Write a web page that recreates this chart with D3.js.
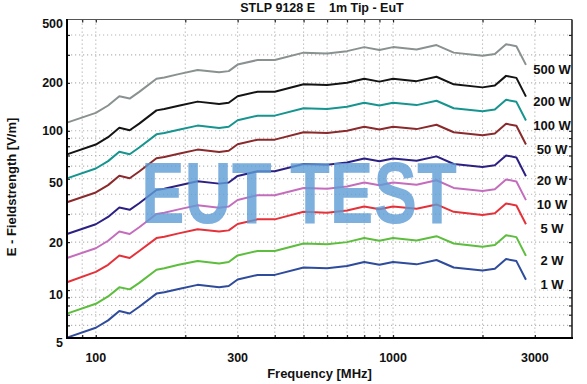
<!DOCTYPE html>
<html>
<head>
<meta charset="utf-8">
<title>STLP 9128 E - 1m Tip - EuT</title>
<script src="https://d3js.org/d3.v7.min.js"></script>
<style>
body { margin: 0; background: #fff; }
svg text { font-family: "Liberation Sans", Arial, sans-serif; font-weight: bold; fill: #111; }
</style>
</head>
<body>
<script>
// frequency points [MHz]
var freqs = [80, 100, 110, 120, 130, 140, 160, 170, 190, 220, 260, 280, 300, 350, 400, 500, 600, 700, 800, 900, 1000, 1200, 1400, 1600, 2000, 2200, 2400, 2600, 2800];

// field strength [V/m] per forward power
var e500 = [112.5, 129.7, 144.2, 165.0, 159.4, 175.5, 212.4, 216.4, 227.0, 241.0, 233.0, 237.0, 260.5, 278.4, 278.4, 309.7, 306.3, 316.4, 335.4, 322.0, 335.4, 324.2, 345.5, 309.7, 296.3, 304.1, 349.9, 339.9, 259.4];
var e200 = [71.1, 82.0, 91.2, 104.4, 100.8, 111.0, 134.4, 136.9, 143.5, 152.5, 147.4, 149.9, 164.8, 176.1, 176.1, 195.9, 193.7, 200.1, 212.1, 203.6, 212.1, 205.1, 218.5, 195.9, 187.4, 192.3, 221.3, 215.0, 164.0];
var e100 = [50.3, 58.0, 64.5, 73.8, 71.3, 78.5, 95.0, 96.8, 101.5, 107.8, 104.2, 106.0, 116.5, 124.5, 124.5, 138.5, 137.0, 141.5, 150.0, 144.0, 150.0, 145.0, 154.5, 138.5, 132.5, 136.0, 156.5, 152.0, 116.0];
var e50 = [35.6, 41.0, 45.6, 52.2, 50.4, 55.5, 67.2, 68.4, 71.8, 76.2, 73.7, 75.0, 82.4, 88.0, 88.0, 97.9, 96.9, 100.1, 106.1, 101.8, 106.1, 102.5, 109.2, 97.9, 93.7, 96.2, 110.7, 107.5, 82.0];
var e20 = [22.5, 25.9, 28.8, 33.0, 31.9, 35.1, 42.5, 43.3, 45.4, 48.2, 46.6, 47.4, 52.1, 55.7, 55.7, 61.9, 61.3, 63.3, 67.1, 64.4, 67.1, 64.8, 69.1, 61.9, 59.3, 60.8, 70.0, 68.0, 51.9];
var e10 = [15.9, 18.3, 20.4, 23.3, 22.5, 24.8, 30.0, 30.6, 32.1, 34.1, 32.9, 33.5, 36.8, 39.4, 39.4, 43.8, 43.3, 44.7, 47.4, 45.5, 47.4, 45.8, 48.9, 43.8, 41.9, 43.0, 49.5, 48.1, 36.7];
var e5 = [11.2, 13.0, 14.4, 16.5, 15.9, 17.6, 21.2, 21.6, 22.7, 24.1, 23.3, 23.7, 26.0, 27.8, 27.8, 31.0, 30.6, 31.6, 33.5, 32.2, 33.5, 32.4, 34.5, 31.0, 29.6, 30.4, 35.0, 34.0, 25.9];
var e2 = [7.11, 8.20, 9.12, 10.4, 10.1, 11.1, 13.4, 13.7, 14.4, 15.2, 14.7, 15.0, 16.5, 17.6, 17.6, 19.6, 19.4, 20.0, 21.2, 20.4, 21.2, 20.5, 21.8, 19.6, 18.7, 19.2, 22.1, 21.5, 16.4];
var e1 = [5.03, 5.80, 6.45, 7.38, 7.13, 7.85, 9.50, 9.68, 10.15, 10.78, 10.42, 10.60, 11.65, 12.45, 12.45, 13.85, 13.70, 14.15, 15.0, 14.4, 15.0, 14.5, 15.45, 13.85, 13.25, 13.6, 15.65, 15.2, 11.6];

var seriesNames = ["500 W", "200 W", "100 W", "50 W", "20 W", "10 W", "5 W", "2 W", "1 W"];
var seriesValues = [e500, e200, e100, e50, e20, e10, e5, e2, e1];

// axis ticks and grid
var xTickLabels = [100, 300, 1000, 3000];
var yTickLabels = [5, 10, 20, 50, 100, 200, 500];
var xGrid = [90, 100, 200, 300, 400, 500, 600, 700, 800, 900, 1000, 2000, 3000];
var yGrid = [6, 7, 8, 9, 10, 20, 30, 40, 50, 60, 70, 80, 90, 100, 200, 300, 400];

// line colours, same order as the series
var colors = ["#8a9191", "#141414", "#16948f", "#8a2a2c", "#2c2183", "#c56dbd", "#e5323a", "#5dbd3d", "#2e4b9c"];

var width = 587, height = 384;
var pLeft = 67, pRight = 572, pTop = 19.5, pBottom = 338;

var svg = d3.select("body").append("svg")
	.attr("width", width)
	.attr("height", height);

var x = d3.scaleLog().domain([80, 4000]).range([pLeft, pRight]);
var y = d3.scaleLog().domain([5, 500]).range([pBottom, pTop]);

// dotted grid
var grid = svg.append("g")
	.attr("stroke", "#b4b4b4")
	.attr("stroke-width", 1.1)
	.attr("stroke-dasharray", "1.2,2.8");

grid.selectAll("line.v")
	.data(xGrid)
	.enter().append("line")
	.attr("class", "v")
	.attr("x1", function(d) { return x(d); })
	.attr("x2", function(d) { return x(d); })
	.attr("y1", pTop)
	.attr("y2", pBottom);

grid.selectAll("line.h")
	.data(yGrid)
	.enter().append("line")
	.attr("class", "h")
	.attr("x1", pLeft)
	.attr("x2", pRight)
	.attr("y1", function(d) { return y(d); })
	.attr("y2", function(d) { return y(d); });

// inner ticks on all four sides
svg.append("g").attr("transform", "translate(0," + pBottom + ")")
	.call(d3.axisTop(x).tickValues(xGrid).tickSize(3).tickFormat(""));
svg.append("g").attr("transform", "translate(0," + pTop + ")")
	.call(d3.axisBottom(x).tickValues(xGrid).tickSize(3).tickFormat(""));
svg.append("g").attr("transform", "translate(" + pLeft + ",0)")
	.call(d3.axisRight(y).tickValues(yGrid).tickSize(3).tickFormat(""));
svg.append("g").attr("transform", "translate(" + pRight + ",0)")
	.call(d3.axisLeft(y).tickValues(yGrid).tickSize(3).tickFormat(""));
svg.selectAll(".domain").remove();
svg.selectAll(".tick line").attr("stroke", "#222").attr("stroke-width", 1.2);

// data lines
var line = d3.line()
	.x(function(d, i) { return x(freqs[i]); })
	.y(function(d) { return y(d); });

svg.append("g").selectAll("path")
	.data(seriesValues)
	.enter().append("path")
	.attr("d", line)
	.attr("fill", "none")
	.attr("stroke", function(d, i) { return colors[i]; })
	.attr("stroke-width", 2)
	.attr("stroke-linejoin", "round");

// frame
svg.append("line").attr("x1", pLeft).attr("x2", pRight).attr("y1", pTop).attr("y2", pTop)
	.attr("stroke", "#555").attr("stroke-width", 1.2);
svg.append("line").attr("x1", pRight).attr("x2", pRight).attr("y1", pTop).attr("y2", pBottom)
	.attr("stroke", "#222").attr("stroke-width", 1.6);
svg.append("line").attr("x1", pLeft).attr("x2", pLeft).attr("y1", pTop - 0.5).attr("y2", pBottom + 1)
	.attr("stroke", "#000").attr("stroke-width", 2);
svg.append("line").attr("x1", pLeft - 1).attr("x2", pRight + 1).attr("y1", pBottom).attr("y2", pBottom)
	.attr("stroke", "#000").attr("stroke-width", 2);

// tick labels
svg.selectAll("text.xl")
	.data(xTickLabels)
	.enter().append("text")
	.attr("class", "xl")
	.attr("x", function(d) { return x(d); })
	.attr("y", 362)
	.attr("text-anchor", "middle")
	.style("font-size", "12.5px")
	.text(function(d) { return d; });

// some labels sit a little lower than their grid line in the original
var nudge = function(d) { return (d == 500 || d == 50 || d == 10 || d == 5) ? 4 : 0; };

svg.selectAll("text.yl")
	.data(yTickLabels)
	.enter().append("text")
	.attr("class", "yl")
	.attr("x", 63)
	.attr("y", function(d) { return y(d) + 4.5 + nudge(d); })
	.attr("text-anchor", "end")
	.style("font-size", "12.5px")
	.text(function(d) { return d; });

// power labels at the right end of each line
svg.selectAll("text.pw")
	.data(seriesNames)
	.enter().append("text")
	.attr("class", "pw")
	.attr("x", 552)
	.attr("y", function(d, i) { return y(seriesValues[i][freqs.length - 1]) + 9; })
	.attr("text-anchor", "middle")
	.style("font-size", "13px")
	.text(function(d) { return d; });

// title and axis titles
svg.append("text")
	.attr("x", 322)
	.attr("y", 12)
	.attr("text-anchor", "middle")
	.style("font-size", "12.5px")
	.style("white-space", "pre")
	.text("STLP 9128 E    1m Tip - EuT");

svg.append("text")
	.attr("x", (pLeft + pRight) / 2)
	.attr("y", 378)
	.attr("text-anchor", "middle")
	.style("font-size", "13px")
	.text("Frequency [MHz]");

svg.append("text")
	.attr("transform", "translate(16,187) rotate(-90)")
	.attr("text-anchor", "middle")
	.style("font-size", "13px")
	.text("E - Fieldstrength [V/m]");

// watermark
svg.append("text")
	.attr("x", 141)
	.attr("y", 223)
	.attr("textLength", 316)
	.attr("lengthAdjust", "spacingAndGlyphs")
	.style("font-size", "88px")
	.style("fill", "#5f9dd6")
	.style("opacity", 0.8)
	.text("EUT TEST");
</script>
</body>
</html>
